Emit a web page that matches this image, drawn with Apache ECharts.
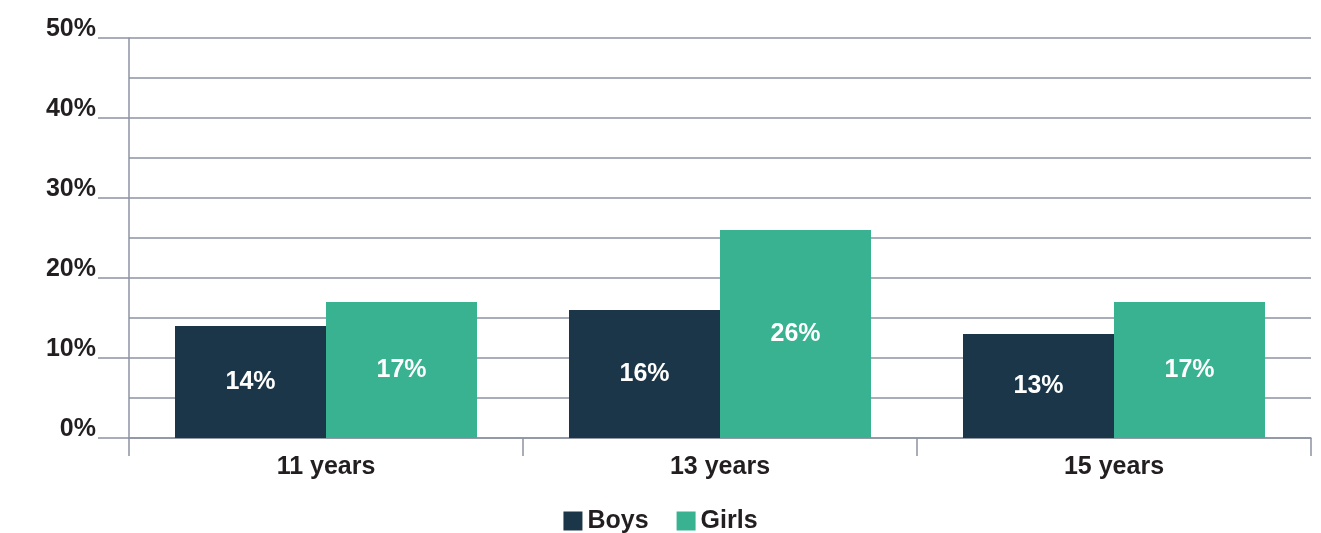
<!DOCTYPE html>
<html>
<head>
<meta charset="utf-8">
<script src="https://cdn.jsdelivr.net/npm/echarts@6/dist/echarts.min.js"></script>
<style>
html,body{margin:0;padding:0;background:#fff;}
#chart{width:1321px;height:533px;}
</style>
</head>
<body>
<div id="chart"></div>
<script>
const categories = ['11 years', '13 years', '15 years'];
const boys = [14, 16, 13];
const girls = [17, 26, 17];
const seriesNames = ['Boys', 'Girls'];

const FONT = '"Liberation Sans", Arial, sans-serif';
const GRID = '#8d93a3';
const TEXT = '#231f20';

const chart = echarts.init(document.getElementById('chart'));
const labelCfg = {
  show: true, position: 'inside', color: '#ffffff',
  fontFamily: FONT, fontWeight: 'bold', fontSize: 25,
  formatter: p => p.value + '%'
};
chart.setOption({
  animation: false,
  textStyle: { fontFamily: FONT },
  grid: { left: 129, right: 10, top: 38, bottom: 95, containLabel: false },
  legend: {
    top: 504, left: 'center', padding: 0,
    itemWidth: 19, itemHeight: 19, itemGap: 28,
    icon: 'rect',
    textStyle: { fontFamily: FONT, fontWeight: 'bold', fontSize: 25, color: TEXT, lineHeight: 34 },
    data: seriesNames
  },
  xAxis: {
    type: 'category',
    data: categories,
    axisLine: { show: true, lineStyle: { color: GRID, width: 1.5 } },
    axisTick: { show: true, length: 18, alignWithLabel: false, lineStyle: { color: GRID, width: 1.5 } },
    axisLabel: { margin: 17, fontFamily: FONT, fontWeight: 'bold', fontSize: 25, color: TEXT },
    splitLine: { show: false }
  },
  yAxis: {
    type: 'value',
    min: 0, max: 50, interval: 10,
    axisLine: { show: true, lineStyle: { color: GRID, width: 1.5 } },
    axisTick: { show: true, length: 31, lineStyle: { color: GRID, width: 1.5 } },
    axisLabel: {
      margin: 33, fontFamily: FONT, fontWeight: 'bold', fontSize: 25, color: TEXT,
      verticalAlign: 'bottom', lineHeight: 25, padding: [0, 0, -4, 0],
      formatter: v => v + '%'
    },
    splitLine: { show: true, lineStyle: { color: GRID, width: 1.5 } },
    minorTick: { show: false, splitNumber: 2 },
    minorSplitLine: { show: true, lineStyle: { color: GRID, width: 1.5 } }
  },
  series: [
    {
      name: seriesNames[0], type: 'bar', data: boys,
      itemStyle: { color: '#1c3649' },
      barWidth: 151, barGap: '0%',
      label: labelCfg
    },
    {
      name: seriesNames[1], type: 'bar', data: girls,
      itemStyle: { color: '#38b291' },
      barWidth: 151, barGap: '0%',
      label: labelCfg
    }
  ]
});
</script>
</body>
</html>
